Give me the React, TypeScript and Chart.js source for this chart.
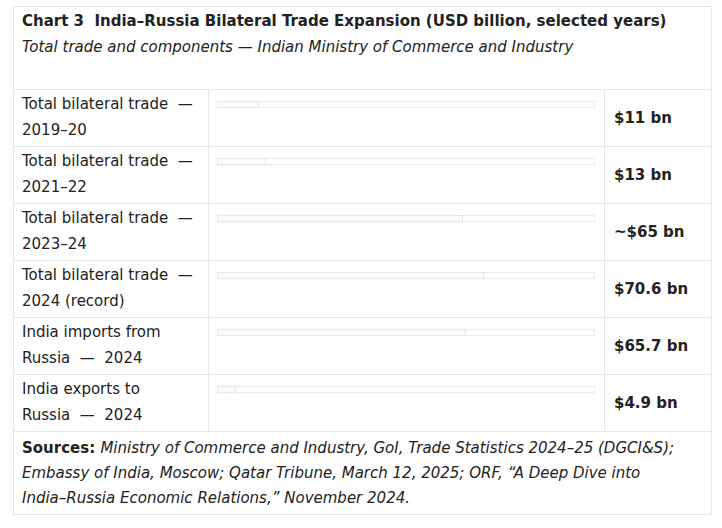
import React, { useEffect, useRef } from "react";
import { Chart, registerables } from "chart.js";

Chart.register(...registerables);

const titleText = "Chart 3\u00a0\u00a0India–Russia Bilateral Trade Expansion (USD billion, selected years)";
const subtitleText = "Total trade and components — Indian Ministry of Commerce and Industry";

const categories: string[][] = [
  ["Total bilateral trade\u00a0\u00a0—", "2019–20"],
  ["Total bilateral trade\u00a0\u00a0—", "2021–22"],
  ["Total bilateral trade\u00a0\u00a0—", "2023–24"],
  ["Total bilateral trade\u00a0\u00a0—", "2024 (record)"],
  ["India imports from", "Russia\u00a0\u00a0—\u00a0\u00a02024"],
  ["India exports to", "Russia\u00a0\u00a0—\u00a0\u00a02024"],
];

const values: number[] = [11, 13, 65, 70.6, 65.7, 4.9];
const valueLabels: string[] = ["$11 bn", "$13 bn", "~$65 bn", "$70.6 bn", "$65.7 bn", "$4.9 bn"];
const trackMax = 100;

const sourcesLines: string[] = [
  "Ministry of Commerce and Industry, GoI, Trade Statistics 2024–25 (DGCI&S);",
  "Embassy of India, Moscow; Qatar Tribune, March 12, 2025; ORF, “A Deep Dive into",
  "India–Russia Economic Relations,” November 2024.",
];

const LINE = "#e6e6e6";
const TEXT = "#222";
const BOX_L = 13;
const BOX_R = 711;
const BOX_T = 6;
const TABLE_T = 89;
const ROW_H = 57;
const COL1 = 208;
const COL2 = 604;
const FOOT_B = 514;
const regular = "'DejaVu Sans', sans-serif";

export default function App() {
  const canvasRef = useRef<HTMLCanvasElement | null>(null);

  useEffect(() => {
    const canvas = canvasRef.current;
    if (!canvas) return;
    const chart = new Chart(canvas, {
      type: "bar",
      data: {
        labels: categories,
        datasets: [
          {
            label: "Value",
            data: values,
            backgroundColor: "#fbfbfb",
            borderColor: "#e0e0e0",
            borderWidth: 1,
            borderSkipped: false,
            barThickness: 7,
            grouped: false,
          },
          {
            label: "Track",
            data: values.map(() => trackMax),
            backgroundColor: "#ffffff",
            borderColor: "#e6e6e6",
            borderWidth: 1,
            borderSkipped: false,
            barThickness: 7,
            grouped: false,
          },
        ],
      },
      options: {
        indexAxis: "y",
        animation: false,
        responsive: false,
        maintainAspectRatio: false,
        layout: { padding: { left: 9, right: 9, top: 0, bottom: 0 } },
        plugins: { legend: { display: false }, tooltip: { enabled: false }, title: { display: false } },
        scales: {
          x: { min: 0, max: trackMax, display: false },
          y: { display: false, offset: true },
        },
      },
    });
    return () => chart.destroy();
  }, []);

  const hLine = (y: number, key: string) => (
    <div key={key} style={{ position: "absolute", left: BOX_L, top: y, width: BOX_R - BOX_L, height: 1, background: LINE }} />
  );
  const vLine = (x: number, y1: number, y2: number, key: string) => (
    <div key={key} style={{ position: "absolute", left: x, top: y1, width: 1, height: y2 - y1, background: LINE }} />
  );

  const tableB = TABLE_T + ROW_H * categories.length;

  return (
    <div style={{ position: "fixed", left: 0, top: 0, width: 722, height: 528, background: "#fff", color: TEXT }}>
      {hLine(BOX_T, "top")}
      {hLine(FOOT_B, "bottom")}
      {vLine(BOX_L, BOX_T, FOOT_B + 1, "left")}
      {vLine(BOX_R, BOX_T, FOOT_B + 1, "right")}
      <div style={{ position: "absolute", left: 22, top: 11, fontFamily: regular, fontWeight: "bold", fontSize: 15, lineHeight: "20px", whiteSpace: "nowrap" }}>
        {titleText}
      </div>
      <div style={{ position: "absolute", left: 22, top: 37, fontFamily: regular, fontStyle: "italic", fontSize: 15, lineHeight: "20px", whiteSpace: "nowrap" }}>
        {subtitleText}
      </div>
      {categories.map((_, i) => hLine(TABLE_T + i * ROW_H, "r" + i))}
      {hLine(tableB, "rb")}
      {vLine(COL1, TABLE_T, tableB, "c1")}
      {vLine(COL2, TABLE_T, tableB, "c2")}
      {categories.map((lines, i) => (
        <div key={"l" + i} style={{ position: "absolute", left: 22, top: TABLE_T + i * ROW_H + 2, fontFamily: regular, fontSize: 15, lineHeight: "26px", whiteSpace: "nowrap" }}>
          {lines.map((t, j) => (
            <div key={j}>{t}</div>
          ))}
        </div>
      ))}
      {valueLabels.map((t, i) => (
        <div key={"v" + i} style={{ position: "absolute", left: 614, top: TABLE_T + i * ROW_H + 1, height: ROW_H - 1, display: "flex", alignItems: "center", fontFamily: regular, fontWeight: "bold", fontSize: 15, whiteSpace: "nowrap" }}>
          {t}
        </div>
      ))}
      <canvas
        ref={canvasRef}
        width={COL2 - COL1}
        height={ROW_H * categories.length}
        style={{ position: "absolute", left: COL1, top: TABLE_T - 13, width: COL2 - COL1, height: ROW_H * categories.length }}
      />
      <div style={{ position: "absolute", left: 22, top: tableB + 5, fontFamily: regular, fontSize: 15, lineHeight: "25px", whiteSpace: "nowrap" }}>
        {sourcesLines.map((t, j) => (
          <div key={j}>
            {j === 0 ? <b style={{ fontStyle: "normal" }}>Sources: </b> : null}
            <i>{t}</i>
          </div>
        ))}
      </div>
    </div>
  );
}
